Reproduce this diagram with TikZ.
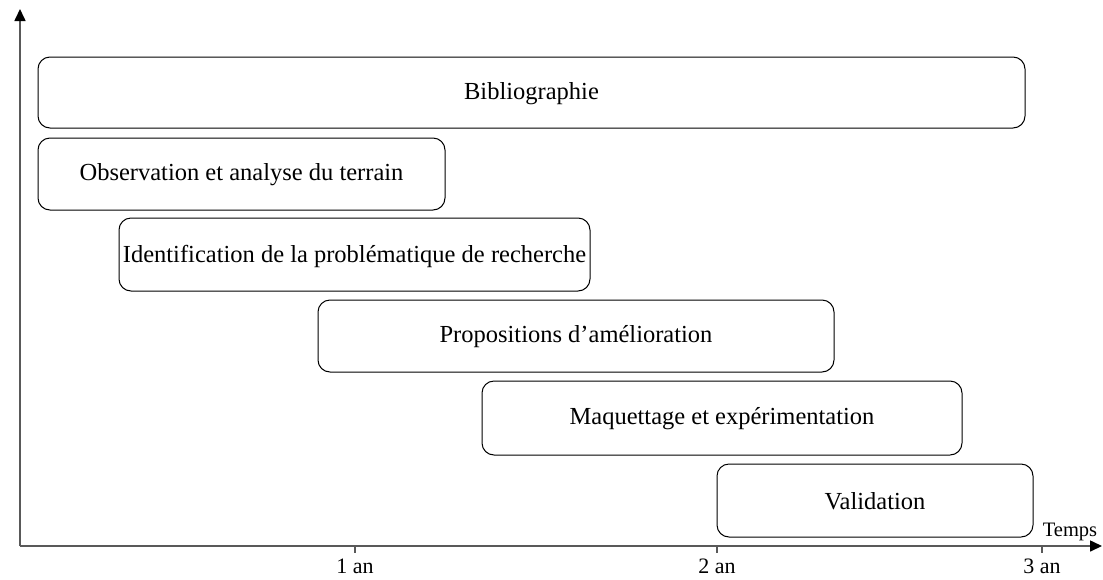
\documentclass[tikz,border=0pt]{standalone}
\usepackage{fontspec}
\setmainfont{Liberation Serif}
\usetikzlibrary{arrows.meta}
\begin{document}
\begin{tikzpicture}[x=1pt,y=-1pt,
  phase/.style={draw=black,line width=1pt,rounded corners=12pt},
  phasetext/.style={font=\fontsize{24.5}{28}\selectfont,inner sep=0pt},
  axis/.style={draw=black!65,line width=1.6pt,
    -{Triangle[length=12pt,width=11pt,color=black]}},
  tick/.style={draw=black!65,line width=1.2pt},
  ticklabel/.style={font=\fontsize{22}{24}\selectfont,anchor=base},
]
\useasboundingbox (0,0) rectangle (1103,579);
% axes
\coordinate (O) at (20,546);
\coordinate (ytop) at (20,9);
\coordinate (xend) at (1102,546);
\draw[axis] (O) -- (ytop);
\draw[axis] (O) -- (xend);
% ticks and labels
\foreach \x/\t [count=\i] in {355/1 an,717/2 an,1042/3 an}{
  \coordinate (t\i) at (\x,546);
  \draw[tick] (t\i) -- ++(0,7);
  \node[ticklabel] (l\i) at (\x,573) {\t};
}
\node[font=\fontsize{20.5}{22}\selectfont,anchor=base] (temps) at (1070,536) {Temps};
% phases
\draw[phase] (38,57) rectangle (1025,128);
\node[phasetext] (biblio) at (531.5,94) {Bibliographie};
\draw[phase] (38,138) rectangle (445,210);
\node[phasetext] (obs) at (241.5,175) {Observation et analyse du terrain};
\draw[phase] (119,218) rectangle (590,291);
\node[phasetext] (ident) at (354.5,256) {Identification de la problématique de recherche};
\draw[phase] (318,300) rectangle (834,372);
\node[phasetext] (prop) at (576,337) {Propositions d’amélioration};
\draw[phase] (482,381) rectangle (962,455);
\node[phasetext] (maq) at (722,419) {Maquettage et expérimentation};
\draw[phase] (717,464) rectangle (1033,537);
\node[phasetext] (valid) at (875,501) {Validation};
\end{tikzpicture}
\end{document}
